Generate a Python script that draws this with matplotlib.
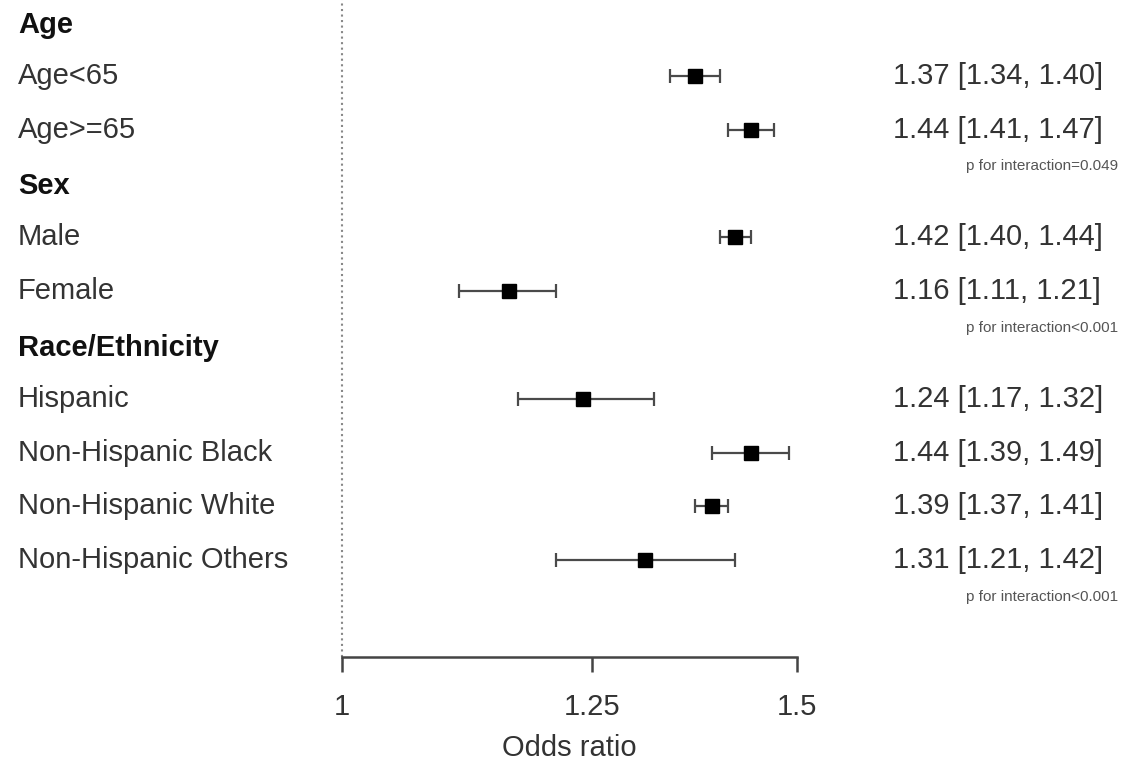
import matplotlib
matplotlib.use('Agg')
import matplotlib.pyplot as plt
import matplotlib.transforms as mtransforms
from matplotlib.ticker import NullLocator

plt.rcParams['font.family'] = ['Liberation Sans', 'DejaVu Sans']

# 데이터
labels = ['Age', 'Age<65', 'Age>=65', 'Sex', 'Male', 'Female', 'Race/Ethnicity',
          'Hispanic', 'Non-Hispanic Black', 'Non-Hispanic White', 'Non-Hispanic Others']
is_header = [True, False, False, True, False, False, True, False, False, False, False]
or_vals = [None, 1.37, 1.44, None, 1.42, 1.16, None, 1.24, 1.44, 1.39, 1.31]
ci_low = [None, 1.34, 1.41, None, 1.40, 1.11, None, 1.17, 1.39, 1.37, 1.21]
ci_high = [None, 1.40, 1.47, None, 1.44, 1.21, None, 1.32, 1.49, 1.41, 1.42]
p_rows = [2, 5, 10]
p_texts = ['p for interaction=0.049', 'p for interaction<0.001', 'p for interaction<0.001']
x_ticks = [1, 1.25, 1.5]
x_ticklabels = ['1', '1.25', '1.5']

txt_color = '#333333'
fs = 21

fig = plt.figure(figsize=(11.28, 7.67), dpi=100)
ax = fig.add_axes([342 / 1128, 110 / 767, 455 / 1128, 657 / 767])
ax.set_xscale('log')
ax.set_xlim(1, 1.5)
ax.set_ylim(11.8, -0.41)

# 점선 (OR=1)
ax.axvline(1, color='#888888', linestyle=':', linewidth=1.5, clip_on=False)

# 오차막대와 점
for i, v in enumerate(or_vals):
    if v is None:
        continue
    ax.errorbar(v, i, xerr=[[v - ci_low[i]], [ci_high[i] - v]], fmt='s',
                color='black', ecolor='#4a4a4a', elinewidth=1.6, capsize=5,
                capthick=1.6, markersize=10)

# 왼쪽 라벨, 오른쪽 OR 텍스트
trans = mtransforms.blended_transform_factory(fig.transFigure, ax.transData)
for i, lab in enumerate(labels):
    ax.text(18 / 1128, i + (0.05 if is_header[i] else 0), lab, transform=trans,
            ha='left', va='center', fontsize=fs,
            color=txt_color if not is_header[i] else '#111111',
            fontweight='bold' if is_header[i] else 'normal')
    if or_vals[i] is not None:
        ax.text(893 / 1128, i, f'{or_vals[i]:.2f} [{ci_low[i]:.2f}, {ci_high[i]:.2f}]',
                transform=trans, ha='left', va='center', fontsize=fs, color=txt_color)

for r, t in zip(p_rows, p_texts):
    ax.text(1118 / 1128, r + 0.68, t, transform=trans, ha='right', va='center',
            fontsize=11, color='#555555')

# 축 설정
for s in ['top', 'right', 'left']:
    ax.spines[s].set_visible(False)
ax.spines['bottom'].set_color('#444444')
ax.spines['bottom'].set_linewidth(1.8)
ax.set_yticks([])
ax.set_xticks(x_ticks)
ax.set_xticklabels(x_ticklabels)
ax.xaxis.set_minor_locator(NullLocator())
ax.tick_params(axis='x', length=11, width=1.8, color='#444444', pad=15,
               labelsize=fs, labelcolor=txt_color)
ax.set_xlabel('Odds ratio', fontsize=fs, color=txt_color, labelpad=9)
ax.patch.set_alpha(0)

fig.savefig('out.png', dpi=100)
